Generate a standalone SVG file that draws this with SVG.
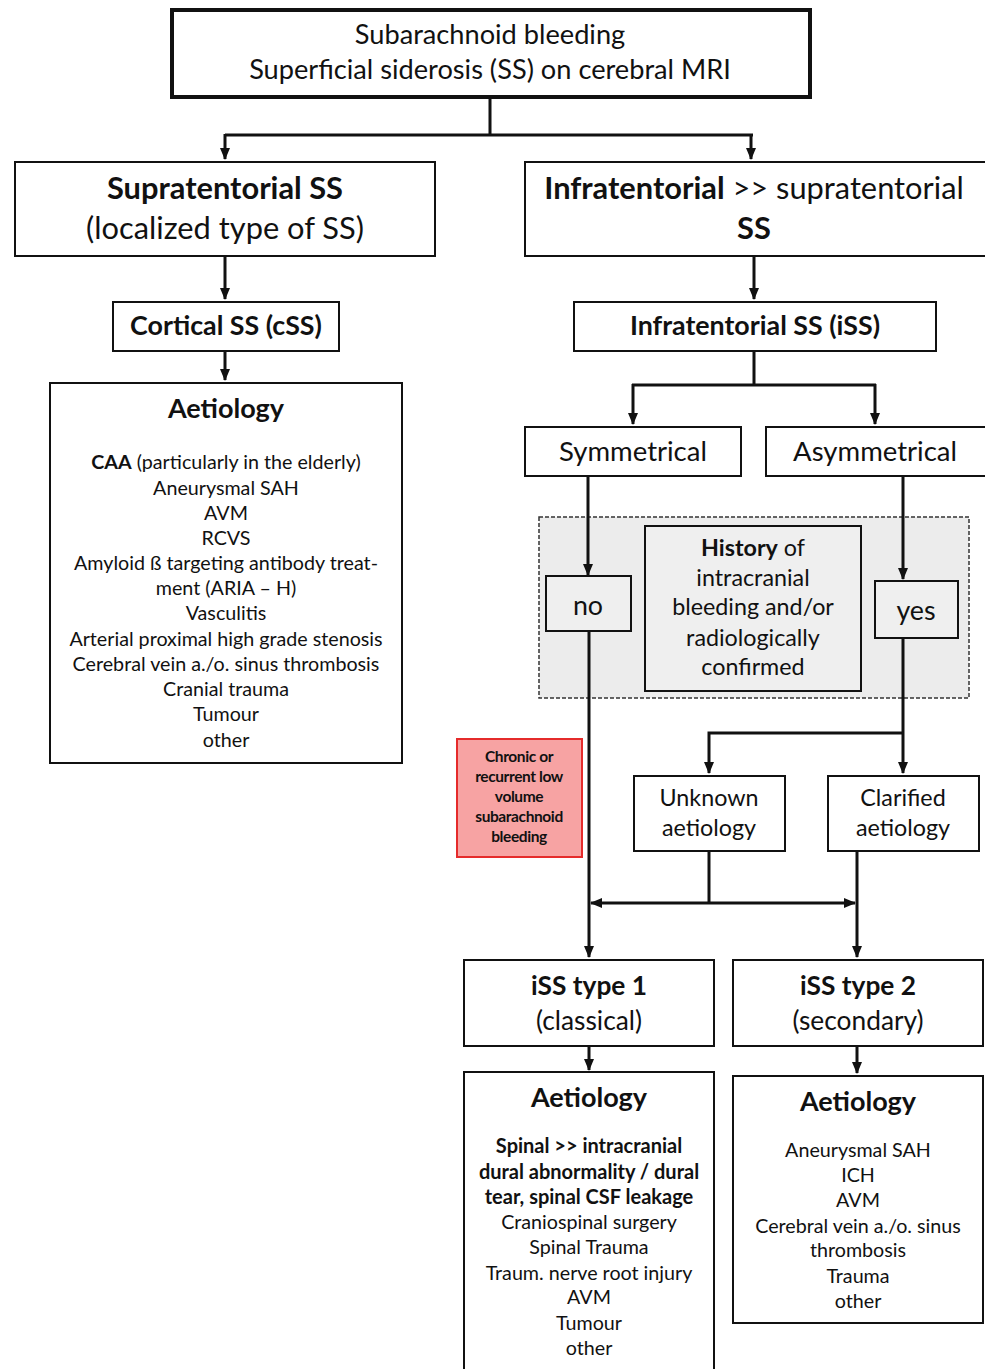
<svg xmlns="http://www.w3.org/2000/svg" width="985" height="1369" viewBox="0 0 985 1369">
<style>
text{font-family:Lato,"Open Sans","Liberation Sans",sans-serif;fill:#111;text-anchor:middle}
.box{fill:#fff;stroke:#111;stroke-width:2}
.b{font-weight:bold}
.t27{font-size:27.2px}
.t31{font-size:30.8px}
.th{font-size:27px}
.t24{font-size:26.8px}
.ts{font-size:27.5px}
.t22{font-size:23.3px}
.t19{font-size:19.7px}
.t19b{font-size:20px;font-weight:bold}
.tt{font-size:26.3px}
.red{font-size:15.5px;font-weight:bold;letter-spacing:-0.4px}
.ln{fill:none;stroke:#111;stroke-width:3}
</style>
<defs>
<marker id="ah" markerUnits="userSpaceOnUse" markerWidth="12" markerHeight="12" viewBox="0 0 12 12" refX="11" refY="6" orient="auto">
<path d="M0,1 L12,6 L0,11 Z" fill="#111"/>
</marker>
</defs>
<rect x="0" y="0" width="985" height="1369" fill="#fff"/>

<g id="history-panel">
<rect x="539" y="517" width="430" height="181" fill="#ececec" stroke="#333" stroke-width="1.5" stroke-dasharray="4,2"/>
</g>

<g id="connectors">
<path class="ln" d="M490,97 V135 M225,135 H753"/>
<path class="ln" d="M225,134 V159" marker-end="url(#ah)"/>
<path class="ln" d="M751,134 V159" marker-end="url(#ah)"/>
<path class="ln" d="M225,256 V299" marker-end="url(#ah)"/>
<path class="ln" d="M754,256 V299" marker-end="url(#ah)"/>
<path class="ln" d="M225,351 V380" marker-end="url(#ah)"/>
<path class="ln" d="M754,351 V385 M632,385 H876"/>
<path class="ln" d="M633,384 V424" marker-end="url(#ah)"/>
<path class="ln" d="M875,384 V424" marker-end="url(#ah)"/>
<path class="ln" d="M588,476 V575" marker-end="url(#ah)"/>
<path class="ln" d="M903,476 V579" marker-end="url(#ah)"/>
<path class="ln" d="M589,631 V957" marker-end="url(#ah)"/>
<path class="ln" d="M903,638 V773" marker-end="url(#ah)"/>
<path class="ln" d="M903,733 H709 V773" marker-end="url(#ah)"/>
<path class="ln" d="M709,851 V903"/>
<path class="ln" d="M709,903 H591" marker-end="url(#ah)"/>
<path class="ln" d="M709,903 H855" marker-end="url(#ah)"/>
<path class="ln" d="M857,851 V957" marker-end="url(#ah)"/>
<path class="ln" d="M589,1046 V1070" marker-end="url(#ah)"/>
<path class="ln" d="M857,1046 V1073" marker-end="url(#ah)"/>
</g>

<g id="top">
<rect x="172" y="10" width="638" height="87" fill="#fff" stroke="#111" stroke-width="4"/>
<text class="t27" x="490" y="44">Subarachnoid bleeding</text>
<text class="t27" x="490" y="79">Superficial siderosis (SS) on cerebral MRI</text>
</g>

<g id="supra">
<rect class="box" x="15" y="162" width="420" height="94"/>
<text class="t31 b" x="225" y="199">Supratentorial SS</text>
<text class="t31" x="225" y="239">(localized type of SS)</text>
</g>

<g id="infra">
<rect class="box" x="525" y="162" width="470" height="94"/>
<text class="t31" x="754" y="199"><tspan class="b">Infratentorial</tspan> &gt;&gt; supratentorial</text>
<text class="t31 b" x="754" y="239">SS</text>
</g>

<g id="css">
<rect class="box" x="113" y="302" width="226" height="49"/>
<text class="t24 b" x="226" y="335">Cortical SS (cSS)</text>
</g>

<g id="iss">
<rect class="box" x="574" y="302" width="362" height="49"/>
<text class="t24 b" x="755" y="335">Infratentorial SS (iSS)</text>
</g>

<g id="aet-left">
<rect class="box" x="50" y="383" width="352" height="380"/>
<text class="th b" x="226" y="418">Aetiology</text>
<text class="t19" x="226" y="469"><tspan class="b">CAA</tspan> (particularly in the elderly)</text>
<text class="t19" x="226" y="495">Aneurysmal SAH</text>
<text class="t19" x="226" y="520">AVM</text>
<text class="t19" x="226" y="545">RCVS</text>
<text class="t19" x="226" y="570">Amyloid ß targeting antibody treat-</text>
<text class="t19" x="226" y="595">ment (ARIA – H)</text>
<text class="t19" x="226" y="620">Vasculitis</text>
<text class="t19" x="226" y="646">Arterial proximal high grade stenosis</text>
<text class="t19" x="226" y="671">Cerebral vein a./o. sinus thrombosis</text>
<text class="t19" x="226" y="696">Cranial trauma</text>
<text class="t19" x="226" y="721">Tumour</text>
<text class="t19" x="226" y="747">other</text>
</g>

<g id="sym">
<rect class="box" x="525" y="427" width="216" height="49"/>
<text class="ts" x="633" y="461">Symmetrical</text>
</g>

<g id="asym">
<rect class="box" x="766" y="427" width="225" height="49"/>
<text class="ts" x="875" y="461">Asymmetrical</text>
</g>

<g id="history">
<rect x="645" y="526" width="216" height="165" fill="#efefef" stroke="#111" stroke-width="2"/>
<text class="t22" x="753" y="556"><tspan class="b">History</tspan> of</text>
<text class="t22" x="753" y="586">intracranial</text>
<text class="t22" x="753" y="615">bleeding and/or</text>
<text class="t22" x="753" y="646">radiologically</text>
<text class="t22" x="753" y="675">confirmed</text>
</g>

<g id="no">
<rect x="546" y="576" width="85" height="55" fill="#efefef" stroke="#111" stroke-width="2"/>
<text class="t24" x="588" y="615">no</text>
</g>

<g id="yes">
<rect x="875" y="581" width="83" height="57" fill="#efefef" stroke="#111" stroke-width="2"/>
<text class="t24" x="916" y="620">yes</text>
</g>

<g id="red">
<rect x="457" y="739" width="125" height="118" fill="#f7a3a3" stroke="#e52b2b" stroke-width="2"/>
<text class="red" x="519" y="762">Chronic or</text>
<text class="red" x="519" y="782">recurrent low</text>
<text class="red" x="519" y="802">volume</text>
<text class="red" x="519" y="822">subarachnoid</text>
<text class="red" x="519" y="842">bleeding</text>
</g>

<g id="unknown">
<rect class="box" x="634" y="776" width="151" height="75"/>
<text class="t22" x="709" y="806">Unknown</text>
<text class="t22" x="709" y="836">aetiology</text>
</g>

<g id="clarified">
<rect class="box" x="828" y="776" width="151" height="75"/>
<text class="t22" x="903" y="806">Clarified</text>
<text class="t22" x="903" y="836">aetiology</text>
</g>

<g id="type1">
<rect class="box" x="464" y="960" width="250" height="86"/>
<text class="tt b" x="589" y="995">iSS type 1</text>
<text class="tt" x="589" y="1030">(classical)</text>
</g>

<g id="type2">
<rect class="box" x="733" y="960" width="250" height="86"/>
<text class="tt b" x="858" y="995">iSS type 2</text>
<text class="tt" x="858" y="1030">(secondary)</text>
</g>

<g id="aet1">
<rect class="box" x="464" y="1072" width="250" height="310"/>
<text class="th b" x="589" y="1107">Aetiology</text>
<text class="t19b" x="589" y="1153">Spinal &gt;&gt; intracranial</text>
<text class="t19b" x="589" y="1179">dural abnormality / dural</text>
<text class="t19b" x="589" y="1204">tear, spinal CSF leakage</text>
<text class="t19" x="589" y="1229">Craniospinal surgery</text>
<text class="t19" x="589" y="1254">Spinal Trauma</text>
<text class="t19" x="589" y="1280">Traum. nerve root injury</text>
<text class="t19" x="589" y="1304">AVM</text>
<text class="t19" x="589" y="1330">Tumour</text>
<text class="t19" x="589" y="1355">other</text>
</g>

<g id="aet2">
<rect class="box" x="733" y="1076" width="250" height="247"/>
<text class="th b" x="858" y="1111">Aetiology</text>
<text class="t19" x="858" y="1157">Aneurysmal SAH</text>
<text class="t19" x="858" y="1182">ICH</text>
<text class="t19" x="858" y="1207">AVM</text>
<text class="t19" x="858" y="1233">Cerebral vein a./o. sinus</text>
<text class="t19" x="858" y="1257">thrombosis</text>
<text class="t19" x="858" y="1283">Trauma</text>
<text class="t19" x="858" y="1308">other</text>
</g>
</svg>
